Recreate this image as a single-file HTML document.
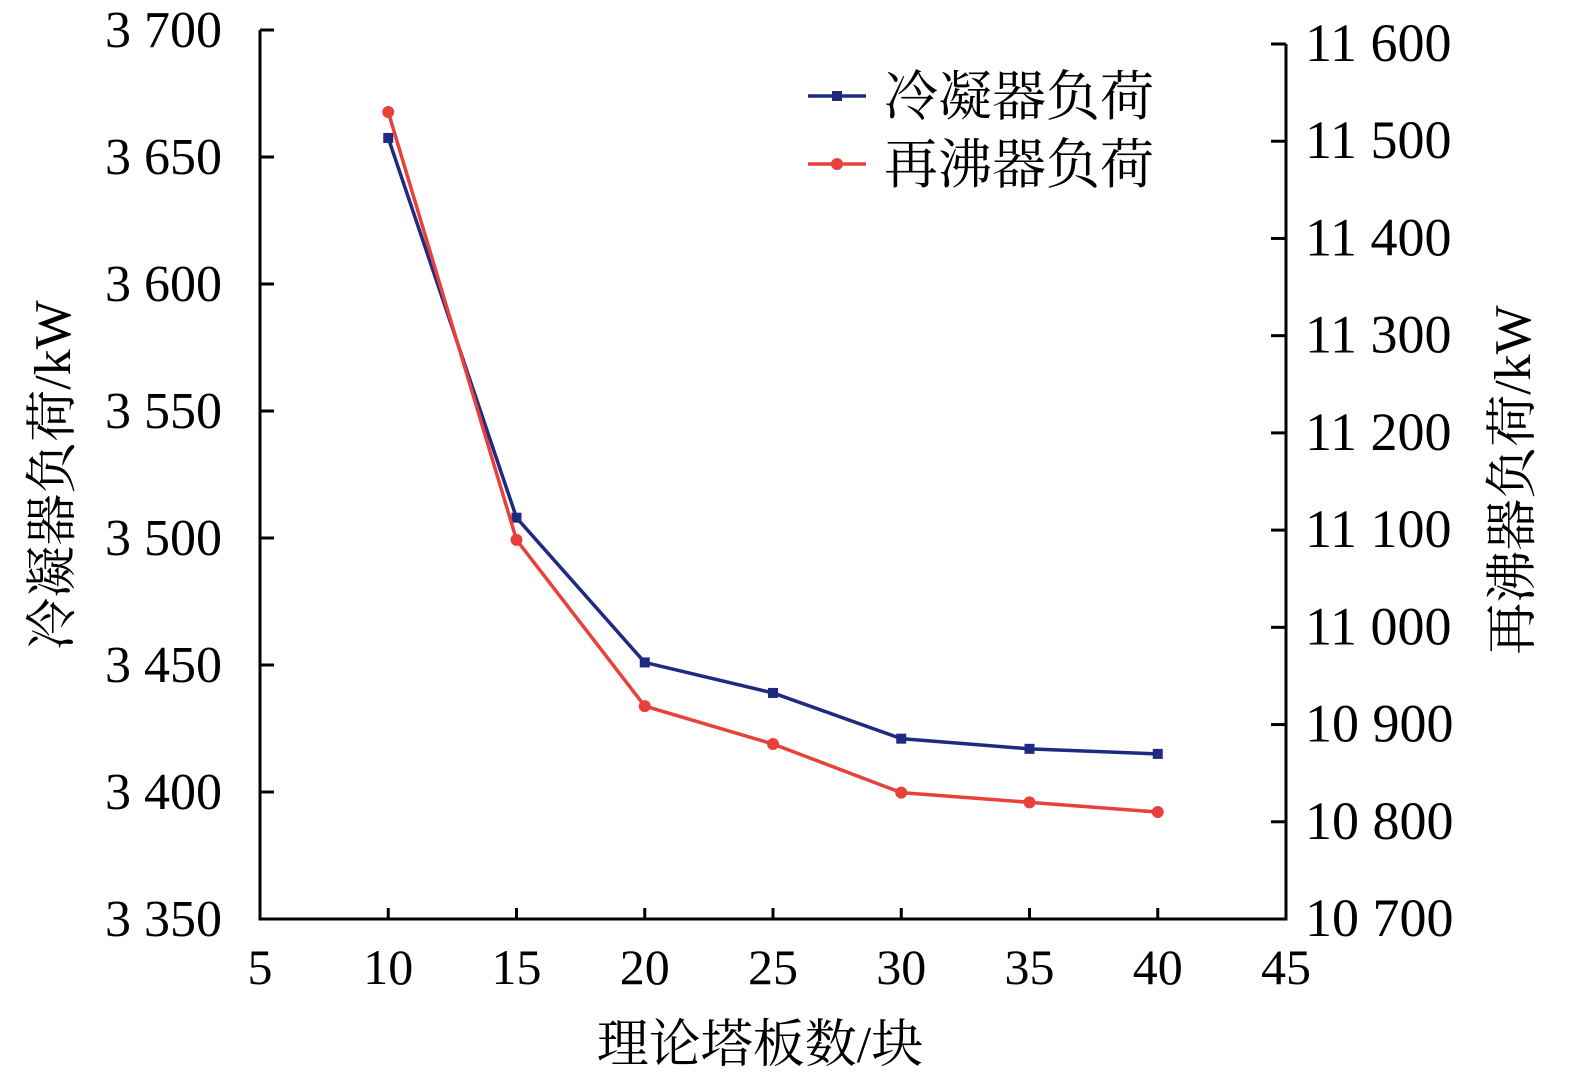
<!DOCTYPE html>
<html><head><meta charset="utf-8"><style>
html,body{margin:0;padding:0;background:#fff;}
svg text{font-family:"Liberation Serif","Noto Serif CJK SC",serif;fill:#000;}
</style></head><body>
<svg id="chart" width="1575" height="1084" viewBox="0 0 1575 1084" xmlns="http://www.w3.org/2000/svg"></svg>
<script>
const categories=[10,15,20,25,30,35,40];
const condenserLoad=[3657.5,3508,3451,3439,3421,3417,3415];
const reboilerLoad=[11530,11090,10919,10880,10830,10820,10810];
const xTicks=[5,10,15,20,25,30,35,40,45];
const yLeftTicks=[3350,3400,3450,3500,3550,3600,3650,3700];
const yRightTicks=[10700,10800,10900,11000,11100,11200,11300,11400,11500,11600];
const svg=document.getElementById('chart');
const NS='http://www.w3.org/2000/svg';
const X0=260,X1=1286,YB=919;
const xs=v=>X0+(v-5)/(45-5)*(X1-X0);
const yl=v=>YB-(v-3350)/(3700-3350)*(YB-30);
const yr=v=>YB-(v-10700)/(11600-10700)*(YB-44);
function mk(tag,attrs,parent){const e=document.createElementNS(NS,tag);for(const k in attrs)e.setAttribute(k,attrs[k]);(parent||svg).appendChild(e);return e;}
function fmt(v){const s=String(v);return s.length>3?s.slice(0,s.length-3)+' '+s.slice(-3):s;}
let e;
e=mk('path',{d:`M${X0},30 L${X0},${YB} L${X1},${YB} L${X1},44`,fill:'none',stroke:'#000','stroke-width':3});


xTicks.forEach(t=>{
 const x=xs(t);
 if(t!==5&&t!==45){e=mk('line',{x1:x,x2:x,y1:YB,y2:YB-11,stroke:'#000','stroke-width':3});
 
 }
 e=mk('text',{x:x,y:984,'font-size':50,'text-anchor':'middle'});e.textContent=t;
 
 
});
yLeftTicks.forEach(t=>{
 const y=yl(t);
 e=mk('line',{x1:X0,x2:X0+14,y1:y,y2:y,stroke:'#000','stroke-width':3});
 
 
 e=mk('text',{x:222,y:y+17,'font-size':52,'text-anchor':'end'});e.textContent=fmt(t);
 
 
});
yRightTicks.forEach(t=>{
 const y=yr(t);
 e=mk('line',{x1:X1-15,x2:X1,y1:y,y2:y,stroke:'#000','stroke-width':3});
 
 
 e=mk('text',{x:1305,y:y+17,'font-size':54,'text-anchor':'start'});e.textContent=fmt(t);
 
 
});
e=mk('text',{x:760,y:1062,'font-size':52,'text-anchor':'middle'});e.textContent='理论塔板数/块';


e=mk('text',{x:0,y:0,'font-size':52,'text-anchor':'middle',transform:'translate(70,475) rotate(-90)'});e.textContent='冷凝器负荷/kW';


e=mk('text',{x:0,y:0,'font-size':52,'text-anchor':'middle',transform:'translate(1530,480) rotate(-90)'});e.textContent='再沸器负荷/kW';


const bluePts=categories.map((c,i)=>[xs(c),yl(condenserLoad[i])]);
const redPts=categories.map((c,i)=>[xs(c),yr(reboilerLoad[i])]);
e=mk('polyline',{points:bluePts.map(p=>p.join(',')).join(' '),fill:'none',stroke:'#1f2a80','stroke-width':3.5});


bluePts.forEach(p=>{e=mk('rect',{x:p[0]-5,y:p[1]-5,width:10,height:10,fill:'#1f2a80'});
 
 });
e=mk('polyline',{points:redPts.map(p=>p.join(',')).join(' '),fill:'none',stroke:'#e8413c','stroke-width':3.5});


redPts.forEach(p=>{e=mk('circle',{cx:p[0],cy:p[1],r:6,fill:'#e8413c'});
 
 });
e=mk('line',{x1:808,x2:866,y1:96,y2:96,stroke:'#1f2a80','stroke-width':3.5});


e=mk('rect',{x:832,y:91,width:10,height:10,fill:'#1f2a80'});


e=mk('text',{x:884,y:115,'font-size':54});e.textContent='冷凝器负荷';


e=mk('line',{x1:808,x2:866,y1:164,y2:164,stroke:'#e8413c','stroke-width':3.5});


e=mk('circle',{cx:837,cy:164,r:6,fill:'#e8413c'});


e=mk('text',{x:884,y:183,'font-size':54});e.textContent='再沸器负荷';


</script>
</body></html>
